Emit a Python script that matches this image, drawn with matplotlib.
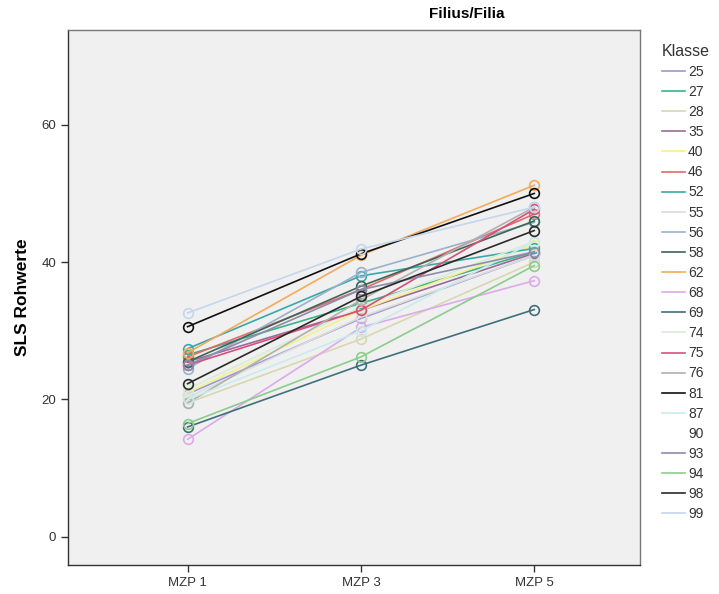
import matplotlib
matplotlib.use("Agg")
import matplotlib.pyplot as plt
from matplotlib.lines import Line2D
import numpy as np

plt.rcParams["font.family"] = ["Liberation Sans", "DejaVu Sans"]

time_points = ["MZP 1", "MZP 3", "MZP 5"]
classes = ["25", "27", "28", "35", "40", "46", "52", "55", "56", "58", "62",
           "68", "69", "74", "75", "76", "81", "87", "90", "93", "94", "98", "99"]
colors = ["#9a9ad0", "#3cb386", "#d8d8b0", "#9a6a9a", "#f6f08a", "#e06a6a",
          "#3aa8a8", "#dcdcdc", "#9ab0cc", "#3f6656", "#f5aa5a", "#dcaaea",
          "#3f6f7a", "#d8ecd8", "#d8507a", "#b0b0b0", "#111111", "#c8ecec",
          "none", "#8c8cae", "#8ccc8c", "#2a2a2a", "#c4d6ec"]
values = {
    "25": [20.8, 31.8, 41.0],
    "27": [26.5, 34.0, 41.5],
    "28": [19.5, 28.8, 40.0],
    "35": [25.5, 33.0, 41.3],
    "40": [21.0, 33.0, 42.5],
    "46": [26.2, 36.0, 47.0],
    "52": [27.4, 38.0, 42.0],
    "55": [20.3, 32.0, 41.0],
    "56": [24.5, 38.5, 45.8],
    "58": [25.5, 36.5, 46.0],
    "62": [26.8, 41.0, 51.2],
    "68": [14.2, 30.5, 37.3],
    "69": [16.0, 25.0, 33.1],
    "74": [21.5, 33.5, 43.0],
    "75": [25.0, 33.0, 47.7],
    "76": [19.5, 34.5, 48.0],
    "81": [30.6, 41.2, 50.0],
    "87": [20.0, 30.0, 43.0],
    "90": [np.nan, np.nan, np.nan],
    "93": [25.0, 36.0, 41.5],
    "94": [16.5, 26.2, 39.5],
    "98": [22.3, 35.0, 44.6],
    "99": [32.6, 41.9, 48.0],
}
y_ticks = [0, 20, 40, 60]

fig = plt.figure(figsize=(7.19, 5.94), dpi=100)
ax = fig.add_axes([68/719, 1-565/594, (640-68)/719, (565-30)/594])
ax.set_facecolor("#f0f0f0")

x = np.arange(len(time_points))
handles = []
for cls, col in zip(classes, colors):
    v = values[cls]
    if col != "none":
        ax.plot(x, v, color=col, lw=1.2, marker="o", ms=7,
                markerfacecolor="none", markeredgecolor=col, markeredgewidth=1.2)
    handles.append(Line2D([0], [0], color=(0, 0, 0, 0) if col == "none" else col, lw=1.2))

ax.set_xlim(-0.69, 2.61)
ax.set_ylim(-4.1, 73.8)
ax.set_xticks(x)
ax.set_xticklabels(time_points)
ax.set_yticks(y_ticks)
ax.tick_params(axis="both", labelsize=9.5, colors="#333333", length=5, width=1)
for s in ["top", "right"]:
    ax.spines[s].set_color("#777777")
for s in ["left", "bottom"]:
    ax.spines[s].set_color("#333333")
for s in ax.spines.values():
    s.set_linewidth(1.0)

ax.set_ylabel("SLS Rohwerte", fontsize=12.5, fontweight="bold", labelpad=8)

fig.text(467/719, 1-14/594, "Filius/Filia", ha="center", va="center",
         fontsize=11, fontweight="bold")

leg = fig.legend(handles, classes, loc="upper left", bbox_to_anchor=(652/719, 1-34/594),
                 frameon=False, title="Klasse", fontsize=10, title_fontsize=11.5,
                 handlelength=1.7, handletextpad=0.2, labelspacing=0.44,
                 alignment="left", borderpad=0.2)
leg.get_title().set_color("#333333")
for t in leg.get_texts():
    t.set_color("#333333")

fig.savefig("out.png", dpi=100, facecolor="white")
